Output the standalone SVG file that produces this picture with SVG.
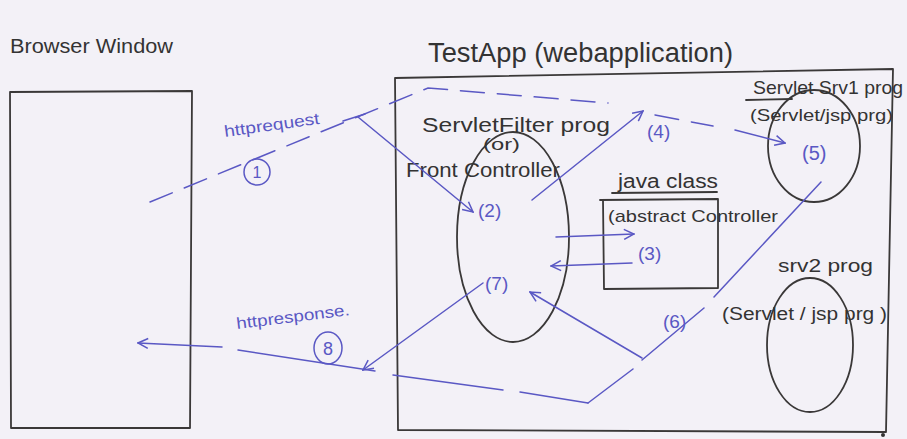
<svg xmlns="http://www.w3.org/2000/svg" width="907" height="439" viewBox="0 0 907 439">
<style>
.ink{fill:none;stroke:#3a3838;stroke-width:1.8;stroke-linecap:round;stroke-linejoin:round}
.blue{fill:none;stroke:#5a58c4;stroke-width:1.5;stroke-linecap:round}
.dash{stroke-dasharray:24 13}
.t{font-family:"Liberation Sans",Arial,sans-serif;fill:#333}
.tb{font-family:"Liberation Sans",Arial,sans-serif;fill:#5a58c4}
</style>
<defs>
<marker id="ah" viewBox="0 0 12 12" refX="11" refY="6" markerWidth="12" markerHeight="12" markerUnits="userSpaceOnUse" orient="auto">
<path d="M1,1 L11,6 L1,11" fill="none" stroke="#5a58c4" stroke-width="1.5"/>
</marker>
</defs>
<rect width="907" height="439" fill="#f3f1f7"/>

<g id="browser">
<path class="ink" d="M10,92 L192,91 L190,428 L11,428 Z"/>
<text class="t" x="10" y="53" font-size="20" textLength="163" lengthAdjust="spacingAndGlyphs">Browser Window</text>
</g>

<g id="testapp">
<path class="ink" d="M395,78 L893,69 L886,432 L398,430 Z"/>
<text class="t" x="428" y="62" font-size="27" textLength="305" lengthAdjust="spacingAndGlyphs">TestApp (webapplication)</text>
<circle cx="883" cy="435" r="2" fill="#333"/>
</g>

<g id="frontController">
<ellipse class="ink" cx="513" cy="237" rx="56" ry="105"/>
<text class="t" x="422" y="132" font-size="20" textLength="188" lengthAdjust="spacingAndGlyphs">ServletFilter prog</text>
<text class="t" x="483" y="150" font-size="16" textLength="37" lengthAdjust="spacingAndGlyphs">(or)</text>
<text class="t" x="406" y="177" font-size="20" textLength="154" lengthAdjust="spacingAndGlyphs">Front Controller</text>
<text class="tb" x="478" y="217" font-size="19">(2)</text>
<text class="tb" x="485" y="290" font-size="19">(7)</text>
</g>

<g id="javaClass">
<path class="ink" d="M600,200 L718,199 L718,288 L604,289 L603,200"/>
<text class="t" x="618" y="188" font-size="20" textLength="100" lengthAdjust="spacingAndGlyphs">java class</text>
<path class="ink" d="M612,193 L717,192"/>
<text class="t" x="608" y="222" font-size="17" textLength="170" lengthAdjust="spacingAndGlyphs">(abstract Controller</text>
<text class="tb" x="638" y="260" font-size="19">(3)</text>
</g>

<g id="srv1">
<ellipse class="ink" cx="814" cy="146" rx="46" ry="56"/>
<text class="t" x="753" y="94" font-size="19" textLength="150" lengthAdjust="spacingAndGlyphs">Servlet Srv1 prog</text>
<path class="ink" d="M746,100 L792,99"/>
<text class="t" x="750" y="121" font-size="17" textLength="143" lengthAdjust="spacingAndGlyphs">(Servlet/jsp prg)</text>
<text class="tb" x="802" y="160" font-size="20">(5)</text>
</g>

<g id="srv2">
<ellipse class="ink" cx="810" cy="345" rx="43" ry="67"/>
<text class="t" x="778" y="272" font-size="19" textLength="95" lengthAdjust="spacingAndGlyphs">srv2 prog</text>
<text class="t" x="722" y="320" font-size="18" textLength="165" lengthAdjust="spacingAndGlyphs">(Servlet / jsp prg )</text>
</g>

<g id="connectors">
<path class="blue dash" d="M150,202 L428,88 L608,103"/>
<path class="blue dash" d="M655,115 L713,126"/>
<path class="blue" d="M735,130 L785,143" marker-end="url(#ah)"/>
<path class="blue" d="M343,121 L365,114"/>
<path class="blue" d="M358,117 L473,212" marker-end="url(#ah)"/>
<path class="blue" d="M532,200 L643,111" marker-end="url(#ah)"/>
<path class="blue" d="M556,237 L634,234" marker-end="url(#ah)"/>
<path class="blue" d="M632,263 L551,266" marker-end="url(#ah)"/>
<path class="blue" d="M821,182 L714,297 M704,308 L642,360 M633,369 L588,403"/>
<path class="blue" d="M588,403 L520,392 M503,390 L393,375 M375,371 L238,350"/>
<path class="blue" d="M222,347 L138,343" marker-end="url(#ah)"/>
<path class="blue" d="M642,358 L530,292" marker-end="url(#ah)"/>
<path class="blue" d="M483,283 L363,370" marker-end="url(#ah)"/>
<text class="tb" x="225" y="137" font-size="16" transform="rotate(-8 225 137)" textLength="96" lengthAdjust="spacingAndGlyphs">httprequest</text>
<circle class="blue" cx="257" cy="172" r="13"/>
<text class="tb" x="257" y="178" font-size="16" text-anchor="middle">1</text>
<text class="tb" x="237" y="329" font-size="16" transform="rotate(-7 237 329)" textLength="114" lengthAdjust="spacingAndGlyphs">httpresponse.</text>
<ellipse class="blue" cx="328" cy="348" rx="14" ry="16"/>
<text class="tb" x="328" y="355" font-size="18" text-anchor="middle">8</text>
<text class="tb" x="647" y="138" font-size="19">(4)</text>
<text class="tb" x="663" y="328" font-size="19">(6)</text>
</g>
</svg>
